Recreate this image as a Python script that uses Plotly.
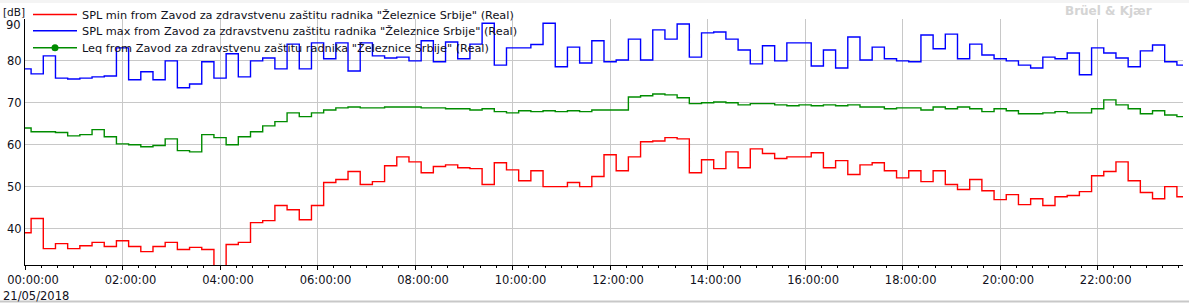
import plotly.graph_objects as go
import pandas as pd

# 15-minute intervals on 21/05/2018
start = "2018-05-21 00:00:00"
n_points = 96
times = pd.date_range(start, periods=n_points, freq="15min")

spl_max = [78.1, 76.9, 81.2, 75.9, 75.7, 75.9, 76.2, 76.4, 83.1, 75.5, 77.4, 75.5,
           80.0, 73.6, 74.5, 79.8, 75.9, 81.7, 76.2, 80.0, 80.7, 78.1, 84.0, 78.1,
           84.3, 80.5, 84.3, 77.6, 84.3, 81.2, 80.7, 80.9, 80.0, 84.8, 79.8, 84.5,
           80.5, 84.0, 89.0, 79.0, 83.1, 83.1, 83.9, 89.0, 78.6, 83.3, 79.5, 84.8,
           79.8, 80.2, 85.2, 80.2, 87.4, 85.2, 88.8, 80.9, 86.7, 86.9, 85.2, 82.6,
           79.3, 83.6, 80.0, 84.3, 84.3, 78.8, 82.6, 78.3, 85.7, 80.2, 83.3, 80.5,
           80.0, 79.8, 86.2, 82.9, 86.4, 80.5, 84.0, 81.4, 80.5, 80.0, 79.0, 78.3,
           80.9, 80.5, 81.9, 76.7, 83.1, 81.9, 80.7, 78.6, 82.4, 83.8, 79.8, 79.0]

leq = [64.0, 63.1, 63.1, 62.9, 62.1, 62.4, 63.6, 61.9, 60.2, 60.0, 59.5, 59.8,
       61.4, 58.6, 58.3, 62.4, 61.7, 60.0, 61.9, 63.1, 64.5, 65.5, 67.6, 66.7,
       67.6, 68.3, 68.8, 69.0, 68.8, 68.8, 69.0, 69.0, 69.0, 68.8, 68.8, 68.6,
       68.6, 68.3, 68.6, 67.9, 67.6, 68.1, 67.9, 68.1, 67.9, 68.1, 67.9, 68.3,
       68.3, 68.3, 71.4, 71.7, 72.1, 71.9, 71.2, 69.8, 70.0, 70.2, 70.0, 69.5,
       69.8, 69.8, 69.5, 69.3, 69.5, 69.3, 69.5, 69.3, 69.5, 69.0, 69.0, 68.6,
       68.8, 68.8, 68.3, 69.0, 68.6, 69.0, 68.6, 67.9, 68.6, 68.1, 67.4, 67.4,
       67.6, 67.9, 67.6, 67.6, 68.6, 70.7, 69.5, 68.6, 67.4, 68.1, 67.1, 66.7]

spl_min = [39.0, 42.4, 35.2, 36.4, 35.2, 35.9, 36.7, 35.7, 37.1, 35.7, 34.5, 35.7,
           36.7, 35.0, 35.5, 35.0, 28.0, 36.2, 36.7, 41.4, 41.9, 45.5, 44.5, 42.1,
           45.5, 51.0, 51.7, 53.6, 50.5, 51.2, 55.0, 57.1, 55.9, 53.3, 54.8, 55.2,
           54.5, 54.3, 50.5, 55.7, 54.0, 51.4, 53.8, 50.0, 50.0, 51.0, 50.0, 52.4,
           57.6, 53.8, 57.1, 60.7, 60.9, 61.7, 61.4, 53.3, 56.4, 54.3, 58.3, 54.5,
           59.0, 57.9, 56.7, 57.1, 57.1, 58.1, 54.5, 56.2, 52.9, 55.2, 55.7, 53.8,
           52.1, 53.8, 51.2, 53.8, 50.5, 49.3, 51.7, 49.0, 46.9, 48.1, 45.7, 47.1,
           45.5, 47.6, 47.9, 48.8, 52.6, 53.6, 55.9, 51.4, 48.6, 47.1, 50.0, 47.6]

names = [
    'SPL min from Zavod za zdravstvenu zaštitu radnika "Železnice Srbije" (Real)',
    'SPL max from Zavod za zdravstvenu zaštitu radnika "Železnice Srbije" (Real)',
    'Leq from Zavod za zdravstvenu zaštitu radnika "Železnice Srbije" (Real)',
]

y_ticks = [40, 50, 60, 70, 80, 90]
y_labels = ["40", "50", "60", "70", "80", "90"]

FONT = "DejaVu Sans"
FS = 11.5
TXT = "#101020"
W, H = 1189, 304
ML, MR, MT, MB = 25, 6, 19, 39
PH = H - MT - MB

fig = go.Figure()
fig.add_trace(go.Scatter(x=times, y=spl_min, name=names[0], mode="lines",
                         line=dict(color="#ff0000", width=1.4, shape="hvh"),
                         legend="legend"))
fig.add_trace(go.Scatter(x=times, y=spl_max, name=names[1], mode="lines",
                         line=dict(color="#0000ff", width=1.4, shape="hvh"),
                         legend="legend2"))
fig.add_trace(go.Scatter(x=times, y=leq, name=names[2], mode="lines+markers",
                         line=dict(color="#008c00", width=1.4, shape="hvh"),
                         marker=dict(size=7, color="#008c00"),
                         selectedpoints=[],
                         unselected=dict(marker=dict(opacity=0)),
                         legend="legend3"))

leg_common = dict(xref="container", yref="container", xanchor="left", yanchor="top",
                  bgcolor="rgba(0,0,0,0)", borderwidth=0, itemwidth=44,
                  font=dict(family=FONT, size=11.3, color=TXT))
row_y = [13.3, 30.7, 47.7]
legends = {}
for i, key in enumerate(["legend", "legend2", "legend3"]):
    top_px = row_y[i] - 14.5
    legends[key] = dict(leg_common, x=28 / W, y=1 - top_px / H)

# top label is drawn slightly inside the plot, as in the original software
top_tick_text = y_labels[-1]
tick_text_axis = y_labels[:-1] + [""]

fig.update_layout(
    width=W, height=H,
    margin=dict(l=ML, r=MR, t=MT, b=MB, autoexpand=False),
    paper_bgcolor="white", plot_bgcolor="white",
    font=dict(family=FONT, size=FS, color=TXT),
    showlegend=True,
    **legends,
    xaxis=dict(
        type="date",
        range=[times[0], times[-1]],
        tickformat="%H:%M:%S",
        tick0=start, dtick=2 * 3600 * 1000,
        ticks="outside", ticklen=4, tickcolor="#000000", tickwidth=1,
        ticklabelshift=8,
        minor=dict(dtick=20 * 60 * 1000, tick0=start, ticks="outside", ticklen=2,
                   tickcolor="#000000", showgrid=False),
        showgrid=True, gridcolor="#c8c8c8", gridwidth=1,
        showline=True, linecolor="#000000", linewidth=1,
        zeroline=False,
        tickfont=dict(family=FONT, size=FS, color=TXT),
    ),
    yaxis=dict(
        range=[31.3, 90],
        tickvals=y_ticks,
        ticktext=tick_text_axis,
        showgrid=True, gridcolor="#c8c8c8", gridwidth=1,
        showline=True, linecolor="#000000", linewidth=1,
        zeroline=False, ticks="",
        tickfont=dict(family=FONT, size=FS, color=TXT),
    ),
    annotations=[
        dict(text=top_tick_text, xref="paper", yref="y", x=0, y=y_ticks[-1],
             xanchor="right", yanchor="middle", xshift=-2, yshift=-6,
             showarrow=False, font=dict(family=FONT, size=FS, color=TXT)),
        dict(text="[dB]", xref="paper", yref="paper", x=0, y=1, xanchor="left",
             yanchor="bottom", xshift=-24, yshift=-1, showarrow=False,
             font=dict(family=FONT, size=10.5, color=TXT)),
        dict(text="21/05/2018", xref="paper", yref="paper", x=0, y=0, xanchor="left",
             yanchor="top", xshift=-24, yshift=-22, showarrow=False,
             font=dict(family=FONT, size=FS, color=TXT)),
        dict(text="<b>Brüel & Kjær</b>", xref="paper", yref="paper", x=1, y=1,
             xanchor="right", yanchor="bottom", xshift=-29, yshift=-1, showarrow=False,
             font=dict(family=FONT, size=12, color="#d4d4d4")),
    ],
    shapes=[
        dict(type="rect", xref="paper", yref="paper", x0=-0.03, x1=1.01,
             y0=1 + (MT - 3) / PH, y1=1 + MT / PH,
             fillcolor="#f4f4f4", line=dict(width=0), layer="below"),
        dict(type="line", xref="paper", yref="paper", x0=-0.03, x1=1.01,
             y0=-(301.5 - (H - MB)) / PH, y1=-(301.5 - (H - MB)) / PH,
             line=dict(color="#c8c8c8", width=2)),
    ],
)

fig.write_html("out.html")
